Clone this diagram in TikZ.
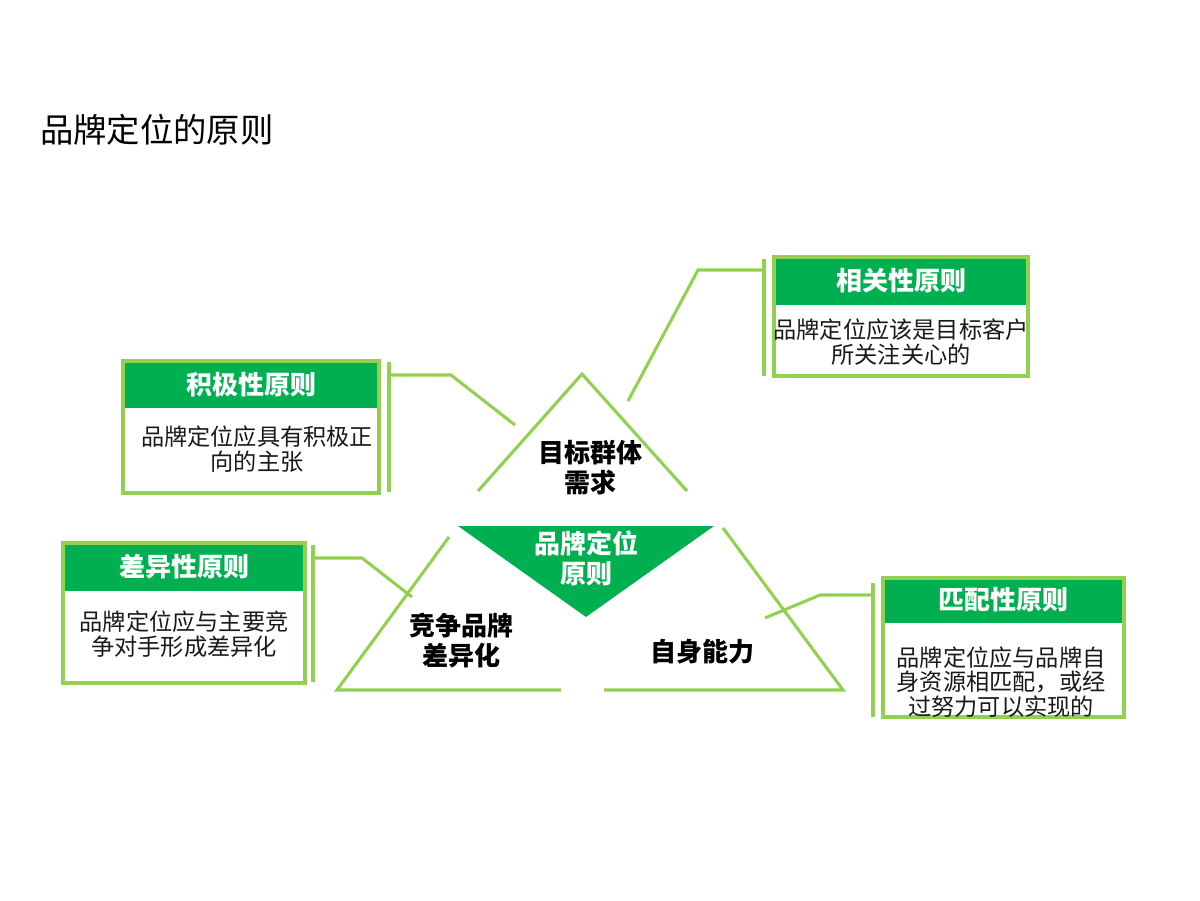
\documentclass[tikz,border=0pt]{standalone}
\usepackage{fontspec}
\setmainfont{Noto Sans CJK SC}
\definecolor{lgreen}{HTML}{92D050}
\definecolor{dgreen}{HTML}{00B050}
\tikzset{
  gline/.style={draw=lgreen, line width=2.3pt, line join=miter},
  frame/.style={draw=lgreen, line width=2.3pt},
  hdr/.style={fill=dgreen},
  hdrtext/.style={text=white, font=\fontsize{19.5pt}{22pt}\selectfont\bfseries, inner sep=0pt},
  bodytext/.style={text=black!90, font=\fontsize{17.4pt}{18.4pt}\selectfont, align=center, inner sep=0pt},
  trilabel/.style={text=black, font=\fontsize{19.5pt}{22.5pt}\selectfont\bfseries, align=center, inner sep=0pt},
  title/.style={text=black, font=\fontsize{25pt}{28pt}\selectfont, anchor=west, inner sep=0pt}
}
\begin{document}
\begin{tikzpicture}[x=0.75pt, y=-0.75pt]
\useasboundingbox (0,0) rectangle (1200,900);
\fill[white] (0,0) rectangle (1200,900);

% title
\node[title] (ttl) at (40,130) {品牌定位的原则};

% triangles
\coordinate (tA) at (582,374);
\coordinate (tL) at (478,491);
\coordinate (tR) at (687,491);
\draw[gline] (tL) -- (tA) -- (tR);
\coordinate (lT) at (449,537);
\coordinate (lB) at (337,690);
\coordinate (lE) at (561,690);
\draw[gline] (lT) -- (lB) -- (lE);
\coordinate (rT) at (723,528);
\coordinate (rB) at (843,690);
\coordinate (rE) at (604,690);
\draw[gline] (rT) -- (rB) -- (rE);
\coordinate (gA) at (458,526);
\coordinate (gB) at (714,526);
\coordinate (gC) at (586,617);
\fill[dgreen] (gA) -- (gB) -- (gC) -- cycle;

\node[trilabel] (t1) at (590,468) {目标群体\\需求};
\node[trilabel, text=white] (t2) at (586,558) {品牌定位\\原则};
\node[trilabel] (t3) at (461,641) {竞争品牌\\差异化};
\node[trilabel] (t4) at (702,652) {自身能力};

% box 1 积极性
\fill[hdr] (123,361) rectangle (379,408);
\draw[frame] (123,361) rectangle (379,493);
\node[hdrtext] (h1) at (251,385) {积极性原则};
\node[bodytext] (b1) at (257,449) {品牌定位应具有积极正\\向的主张};
\draw[gline] (389,362) -- (389,492);
\coordinate (c1a) at (389,375);
\coordinate (c1b) at (451,375);
\coordinate (c1c) at (515,425);
\draw[gline] (c1a) -- (c1b) -- (c1c);

% box 2 相关性
\fill[hdr] (774,257) rectangle (1028,305);
\draw[frame] (774,257) rectangle (1028,376);
\node[hdrtext] (h2) at (901,281) {相关性原则};
\node[bodytext] (b2) at (901,342) {品牌定位应该是目标客户\\所关注关心的};
\draw[gline] (764,259) -- (764,376);
\coordinate (c2a) at (764,270);
\coordinate (c2b) at (698,270);
\coordinate (c2c) at (628,401);
\draw[gline] (c2a) -- (c2b) -- (c2c);

% box 3 差异性
\fill[hdr] (63,543) rectangle (305,591);
\draw[frame] (63,543) rectangle (305,683);
\node[hdrtext] (h3) at (184,567) {差异性原则};
\node[bodytext] (b3) at (184,634) {品牌定位应与主要竞\\争对手形成差异化};
\draw[gline] (313,545) -- (313,682);
\coordinate (c3a) at (313,558);
\coordinate (c3b) at (362,558);
\coordinate (c3c) at (412,597);
\draw[gline] (c3a) -- (c3b) -- (c3c);

% box 4 匹配性
\fill[hdr] (883,578) rectangle (1124,623);
\draw[frame] (883,578) rectangle (1124,717);
\node[hdrtext] (h4) at (1003,600) {匹配性原则};
\node[bodytext] (b4) at (1001,682) {品牌定位应与品牌自\\身资源相匹配，或经\\过努力可以实现的};
\draw[gline] (873,583) -- (873,717);
\coordinate (c4a) at (873,595);
\coordinate (c4b) at (820,595);
\coordinate (c4c) at (765,618);
\draw[gline] (c4a) -- (c4b) -- (c4c);
\end{tikzpicture}
\end{document}
